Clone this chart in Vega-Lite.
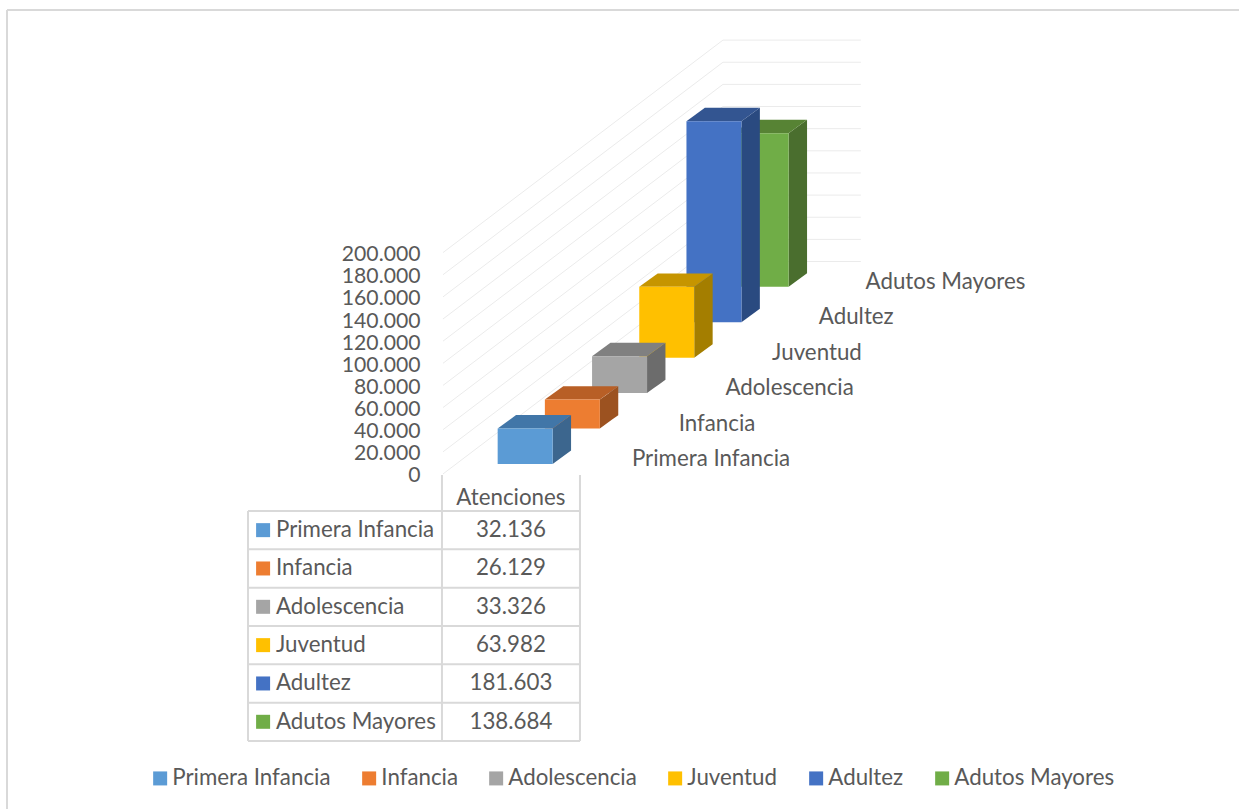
{
"$schema":"https://vega.github.io/schema/vega-lite/v6.json",
"width":1232,"height":799,
"padding":{"left":7,"top":10,"right":0,"bottom":0},
"autosize":{"type":"none"},
"background":"white",
"config":{"view":{"stroke":null},"font":"Lato","text":{"font":"Lato","fontSize":22.3,"color":"#595959","baseline":"middle","dy":1}},
"datasets":{
"atenciones":[
{"category":"Adutos Mayores","value":138684,"order":5},
{"category":"Adultez","value":181603,"order":4},
{"category":"Juventud","value":63982,"order":3},
{"category":"Adolescencia","value":33326,"order":2},
{"category":"Infancia","value":26129,"order":1},
{"category":"Primera Infancia","value":32136,"order":0}
],
"grid":[{"v":0},{"v":20000},{"v":40000},{"v":60000},{"v":80000},{"v":100000},{"v":120000},{"v":140000},{"v":160000},{"v":180000},{"v":200000}],
"filas":[{"b":0},{"b":1},{"b":2},{"b":3},{"b":4},{"b":5},{"b":6}],
"columnas":[{"c":-5.29,"desde":0},{"c":-1.18,"desde":-0.94},{"c":1.744,"desde":-0.94}]
},
"resolve":{"scale":{"y":"independent"}},
"layer":[
{"layer":[
{"data":{"name":"grid"},"transform":[{"calculate":"datum.v+191960","as":"back"}],
 "mark":{"type":"rule","color":"#ebebeb","strokeWidth":1},
 "encoding":{"x":{"datum":-1.159,"type":"quantitative","scale":{"domain":[-10.396,15.707],"nice":false,"zero":false},"axis":null},"x2":{"datum":4.773},
  "y":{"field":"v","type":"quantitative","title":null,"scale":{"domain":[-302620,419150],"nice":false,"zero":false},"axis":{"title":null,"values":[0,20000,40000,60000,80000,100000,120000,140000,160000,180000,200000],"labelExpr":"replace(format(datum.value,','),',','.')","labelOverlap":false,"labelOffset":2,"domain":false,"ticks":false,"grid":false,"offset":-413,"labelPadding":0,"labelFont":"Lato","labelFontSize":21.2,"labelColor":"#595959"}},
  "y2":{"field":"back"}}},
{"data":{"values":[{}]},"mark":{"type":"rule","color":"#d9d9d9","strokeWidth":2},
 "encoding":{"x":{"datum":-10.396,"type":"quantitative","axis":null},"y":{"datum":419150,"type":"quantitative","title":null},"y2":{"datum":-302620}}},
{"data":{"values":[{}]},"mark":{"type":"rule","color":"#d9d9d9","strokeWidth":2},
 "encoding":{"x":{"datum":-10.396,"type":"quantitative","axis":null},"x2":{"datum":15.707},"y":{"datum":419150,"type":"quantitative","title":null}}},
{"data":{"name":"grid"},"transform":[{"calculate":"datum.v+191960","as":"back"}],
 "mark":{"type":"rule","color":"#ebebeb","strokeWidth":1},
 "encoding":{"x":{"datum":4.773,"type":"quantitative","axis":null},"x2":{"datum":7.695},"y":{"field":"back","type":"quantitative","title":null}}},
{"data":{"name":"atenciones"},
 "transform":[
  {"calculate":"['side','top','front']","as":"face"},{"flatten":["face"]},
  {"calculate":"[0,1,2,3]","as":"pt"},{"flatten":["pt"]},
  {"calculate":"9033+datum.order*32030","as":"base"},
  {"calculate":"datum.base+datum.value","as":"tope"},
  {"calculate":"datum.face=='front'?datum.order+1.165*datum.pt/3:datum.face=='side'?datum.order+1.165+0.39*datum.pt/3:datum.order+[0,0.39,1.165,1.555][datum.pt]","as":"px"},
  {"calculate":"datum.face=='front'?datum.tope:datum.face=='side'?datum.tope+12100*datum.pt/3:datum.tope+[0,12100,12100,12100][datum.pt]","as":"py"},
  {"calculate":"datum.face=='front'?datum.base:datum.face=='side'?datum.base+12100*datum.pt/3:datum.tope+[0,0,0,12100][datum.pt]","as":"py2"},
  {"calculate":"datum.face=='front'?datum.category:datum.category+' '+datum.face","as":"cara"}
 ],
 "mark":{"type":"area","interpolate":"linear","orient":"vertical","line":false},
 "encoding":{
  "x":{"field":"px","type":"quantitative","axis":null},
  "y":{"field":"py","type":"quantitative","title":null},
  "y2":{"field":"py2"},
  "color":{"field":"cara","type":"nominal","title":null,
   "scale":{"domain":["Primera Infancia","Infancia","Adolescencia","Juventud","Adultez","Adutos Mayores","Primera Infancia side","Infancia side","Adolescencia side","Juventud side","Adultez side","Adutos Mayores side","Primera Infancia top","Infancia top","Adolescencia top","Juventud top","Adultez top","Adutos Mayores top"],
    "range":["#5b9bd5","#ed7d31","#a5a5a5","#ffc000","#4472c4","#70ad47","#3c668e","#9c5220","#6c6c6c","#a47e00","#2a4a80","#4a6e2e","#4176a8","#b85f26","#808080","#c69500","#335591","#578334"]},
   "legend":{"values":["Primera Infancia","Infancia","Adolescencia","Juventud","Adultez","Adutos Mayores"],"orient":"none","legendX":142,"legendY":757,"direction":"horizontal","columns":6,"symbolType":"square","symbolSize":196,"symbolStrokeWidth":0,"labelFont":"Lato","labelFontSize":22.3,"labelColor":"#595959","labelOffset":1,"labelLimit":400,"columnPadding":27,"gridAlign":"each"}}
 }},
{"data":{"name":"atenciones"},
 "transform":[{"calculate":"2.845+datum.order*0.99","as":"lx"},{"calculate":"14454+datum.order*32030","as":"ly"}],
 "mark":{"type":"text","align":"left"},
 "encoding":{"x":{"field":"lx","type":"quantitative","axis":null},"y":{"field":"ly","type":"quantitative","title":null},"text":{"field":"category"}}}
]},
{"layer":[
{"data":{"name":"filas"},"mark":{"type":"rule","color":"#d9d9d9","strokeWidth":2},
 "encoding":{"x":{"datum":-5.29,"type":"quantitative","axis":null},"x2":{"datum":1.744},
  "y":{"field":"b","type":"quantitative","axis":null,"scale":{"domain":[7.775,-13.07],"nice":false,"zero":false}}}},
{"data":{"name":"columnas"},"mark":{"type":"rule","color":"#d9d9d9","strokeWidth":2},
 "encoding":{"x":{"field":"c","type":"quantitative","axis":null},
  "y":{"field":"desde","type":"quantitative","axis":null},"y2":{"datum":6}}},
{"data":{"values":[{"titulo":"Atenciones"}]},
 "mark":{"type":"text","align":"center"},
 "encoding":{"x":{"datum":0.28,"type":"quantitative","axis":null},"y":{"datum":-0.365,"type":"quantitative","axis":null},"text":{"field":"titulo"}}},
{"data":{"name":"atenciones"},"transform":[{"calculate":"datum.order+0.5","as":"fila"},{"calculate":"-4.97","as":"sx"}],
 "mark":{"type":"point","shape":"square","filled":true,"size":196,"opacity":1},
 "encoding":{"x":{"field":"sx","type":"quantitative","axis":null},"y":{"field":"fila","type":"quantitative","axis":null},
  "color":{"field":"category","type":"nominal","legend":null}}},
{"data":{"name":"atenciones"},"transform":[{"calculate":"datum.order+0.5","as":"fila"},{"calculate":"-4.697","as":"tx"}],
 "mark":{"type":"text","align":"left","dy":0},
 "encoding":{"x":{"field":"tx","type":"quantitative","axis":null},"y":{"field":"fila","type":"quantitative","axis":null},"text":{"field":"category"}}},
{"data":{"name":"atenciones"},"transform":[{"calculate":"datum.order+0.5","as":"fila"},{"calculate":"0.28","as":"vx"},{"calculate":"replace(format(datum.value,','),',','.')","as":"etiqueta"}],
 "mark":{"type":"text","align":"center","dy":0},
 "encoding":{"x":{"field":"vx","type":"quantitative","axis":null},"y":{"field":"fila","type":"quantitative","axis":null},"text":{"field":"etiqueta"}}}
]}
]
}
